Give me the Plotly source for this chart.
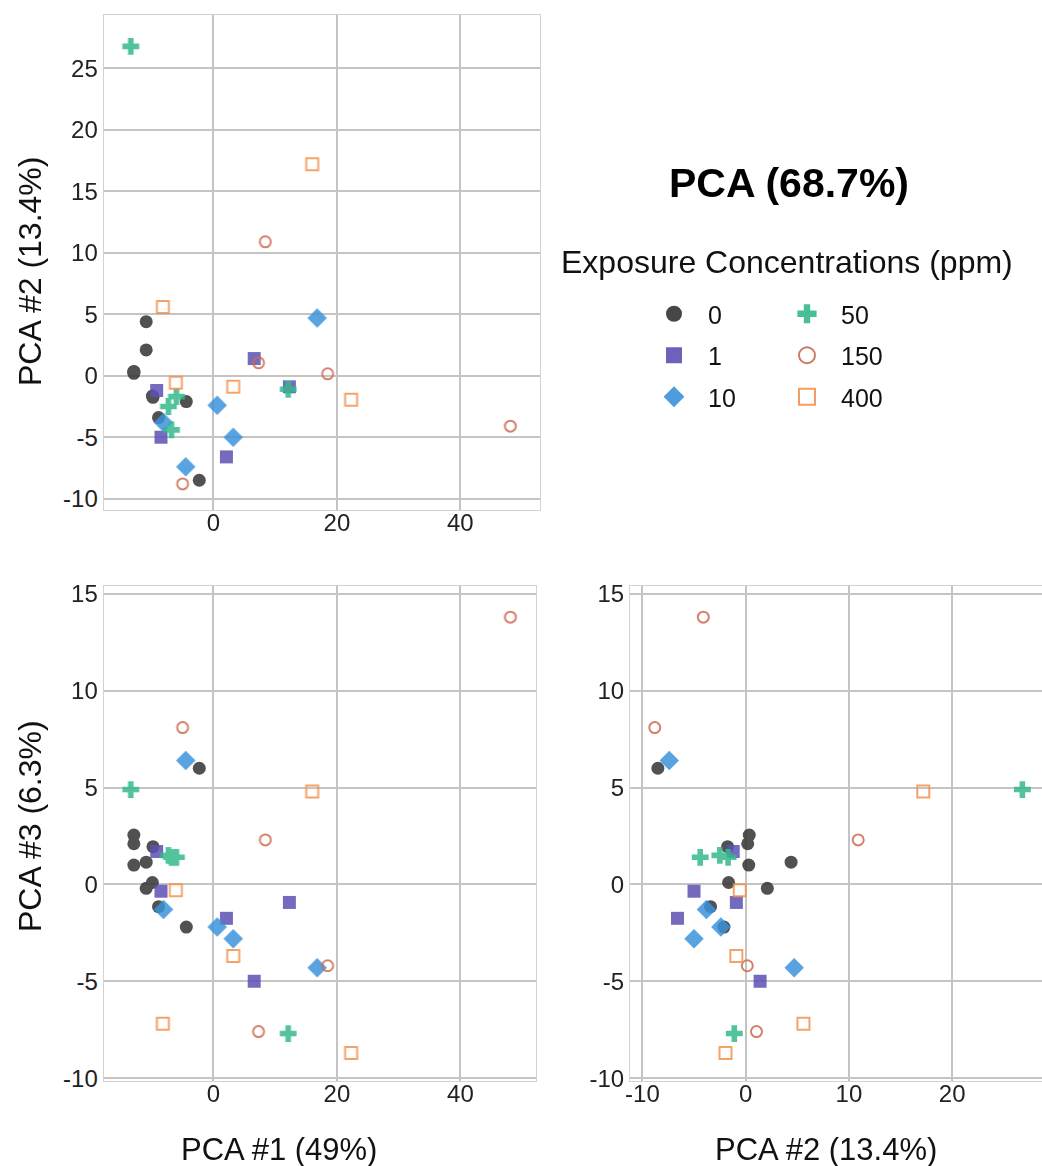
import plotly.graph_objects as go

# ---- data: (PCA #1, PCA #2, PCA #3) per exposure group ----
groups = ["0", "1", "10", "50", "150", "400"]

pc1_0 = [-2.3, -12.9, -12.9, -9.8, -12.9, -10.9, -9.9, -10.9, -8.9, -4.4]
pc2_0 = [-8.5, 0.35, 0.2, -1.75, 0.3, 4.4, -1.65, 2.1, -3.4, -2.1]
pc3_0 = [6.0, 2.55, 2.1, 1.95, 1.0, 1.15, 0.1, -0.2, -1.15, -2.2]

pc1_1 = [-9.2, -8.5, 2.1, 12.3, 6.6]
pc2_1 = [-1.2, -5.0, -6.6, -0.9, 1.4]
pc3_1 = [1.7, -0.35, -1.75, -0.93, -5.0]

pc1_10 = [-4.5, -8.1, 0.6, 3.2, 16.8]
pc2_10 = [-7.4, -3.8, -2.4, -5.0, 4.7]
pc3_10 = [6.4, -1.3, -2.2, -2.8, -4.3]

pc1_50 = [-13.4, 12.1, -6.0, -7.3, -6.8]
pc2_50 = [26.8, -1.1, -1.7, -2.5, -4.4]
pc3_50 = [4.9, -7.7, 1.4, 1.5, 1.4]

pc1_150 = [48.1, -5.0, 8.4, 18.5, 7.3]
pc2_150 = [-4.1, -8.8, 10.9, 0.16, 1.05]
pc3_150 = [13.8, 8.1, 2.3, -4.2, -7.6]

pc1_400 = [16.0, -8.2, -6.1, 3.2, 22.3]
pc2_400 = [17.2, 5.6, -0.57, -0.9, -1.95]
pc3_400 = [4.8, -7.2, -0.3, -3.7, -8.7]

tick_pc1 = [0, 20, 40]
tick_pc2_y = [-10, -5, 0, 5, 10, 15, 20, 25]
tick_pc3 = [-10, -5, 0, 5, 10, 15]
tick_pc2_x = [-10, 0, 10, 20]

data = {
    "0": (pc1_0, pc2_0, pc3_0),
    "1": (pc1_1, pc2_1, pc3_1),
    "10": (pc1_10, pc2_10, pc3_10),
    "50": (pc1_50, pc2_50, pc3_50),
    "150": (pc1_150, pc2_150, pc3_150),
    "400": (pc1_400, pc2_400, pc3_400),
}

styles = {
    "0": dict(symbol="circle", color="#333333", line=dict(width=0)),
    "1": dict(symbol="square", color="#5c52b5", line=dict(width=0)),
    "10": dict(symbol="diamond", color="#3a93db", line=dict(width=0)),
    "50": dict(symbol="cross", color="#33b98c", line=dict(width=0)),
    "150": dict(symbol="circle-open", color="#cd6a52", line=dict(width=2, color="#cd6a52")),
    "400": dict(symbol="square-open", color="#f4924f", line=dict(width=2, color="#f4924f")),
}
sizes = {"0": 13, "1": 13, "10": 15, "50": 14, "150": 11, "400": 12}

fig = go.Figure()

panels = [("x", "y", 0, 1), ("x2", "y2", 0, 2), ("x3", "y3", 1, 2)]
for g in groups:
    vals = data[g]
    st = styles[g]
    for xa, ya, ix, iy in panels:
        fig.add_trace(go.Scatter(
            x=vals[ix], y=vals[iy], mode="markers", xaxis=xa, yaxis=ya,
            showlegend=False, opacity=0.85,
            marker=dict(symbol=st["symbol"], color=st["color"], size=sizes[g], line=st["line"]),
        ))

# legend-only traces
for i, g in enumerate(groups):
    st = styles[g]
    fig.add_trace(go.Scatter(
        x=[None], y=[None], mode="markers", name=g,
        legend="legend" if i < 3 else "legend2", legendgroup=g,
        marker=dict(symbol=st["symbol"], color=st["color"], size=16,
                    line=st["line"] if "open" in st["symbol"] else dict(width=0)),
        opacity=0.9,
    ))

W, H = 1042, 1166
def px(x):
    return x / W
def py(y):
    return 1 - y / H

FONT = "Liberation Sans, Arial"
axis_common = dict(
    showgrid=True, gridcolor="#c4c4c4", gridwidth=2,
    zeroline=True, zerolinecolor="#c4c4c4", zerolinewidth=2,
    showline=True, linecolor="#d2d2d2", linewidth=1, mirror=True,
    automargin=False,
    ticks="", tickfont=dict(family=FONT, size=24, color="#222"),
)
xstand = dict(ticklabelstandoff=-9)

fig.update_layout(
    width=W, height=H, margin=dict(l=0, r=0, t=0, b=0, autoexpand=False),
    paper_bgcolor="white", plot_bgcolor="white",
    font=dict(family=FONT, color="#111"),
    xaxis=dict(domain=[px(103.6), px(540)], range=[-17.8, 52.9], anchor="y",
               tickvals=tick_pc1, ticktext=[str(v) for v in tick_pc1], **xstand, **axis_common),
    yaxis=dict(domain=[py(510), py(15)], range=[-10.92, 29.35], anchor="x",
               tickvals=tick_pc2_y, ticktext=[str(v) for v in tick_pc2_y], **axis_common),
    xaxis2=dict(domain=[px(103.6), px(536)], range=[-17.8, 52.25], anchor="y2",
                tickvals=tick_pc1, ticktext=[str(v) for v in tick_pc1], **xstand, **axis_common),
    yaxis2=dict(domain=[py(1081), py(586)], range=[-10.15, 15.41], anchor="x2",
                tickvals=tick_pc3, ticktext=[str(v) for v in tick_pc3], **axis_common),
    xaxis3=dict(domain=[px(630), 1.0], range=[-11.2, 28.7], anchor="y3",
                tickvals=tick_pc2_x, ticktext=[str(v) for v in tick_pc2_x], **xstand, **axis_common),
    yaxis3=dict(domain=[py(1081), py(586)], range=[-10.15, 15.41], anchor="x3",
                tickvals=tick_pc3, ticktext=[str(v) for v in tick_pc3], **axis_common),
    legend=dict(x=px(640), y=py(291), xanchor="left", yanchor="top",
                font=dict(size=25, color="#111"), itemsizing="trace", itemwidth=58,
                tracegroupgap=6, bgcolor="rgba(0,0,0,0)"),
    legend2=dict(x=px(773), y=py(291), xanchor="left", yanchor="top",
                 font=dict(size=25, color="#111"), itemsizing="trace", itemwidth=58,
                 tracegroupgap=6, bgcolor="rgba(0,0,0,0)"),
)

ann = [
    dict(text="<b>PCA (68.7%)</b>", x=px(789), y=py(183), font=dict(size=41, color="#000")),
    dict(text="Exposure Concentrations (ppm)", x=px(787), y=py(262), font=dict(size=32, color="#111")),
    dict(text="PCA #2 (13.4%)", x=px(30), y=py(272), textangle=-90, font=dict(size=32, color="#111")),
    dict(text="PCA #3 (6.3%)", x=px(30), y=py(826), textangle=-90, font=dict(size=32, color="#111")),
    dict(text="PCA #1 (49%)", x=px(279), y=py(1149), font=dict(size=31, color="#111")),
    dict(text="PCA #2 (13.4%)", x=px(826), y=py(1149), font=dict(size=31, color="#111")),
]
for a in ann:
    fig.add_annotation(xref="paper", yref="paper", showarrow=False,
                       xanchor="center", yanchor="middle", **a)

fig.write_html("out.html")
